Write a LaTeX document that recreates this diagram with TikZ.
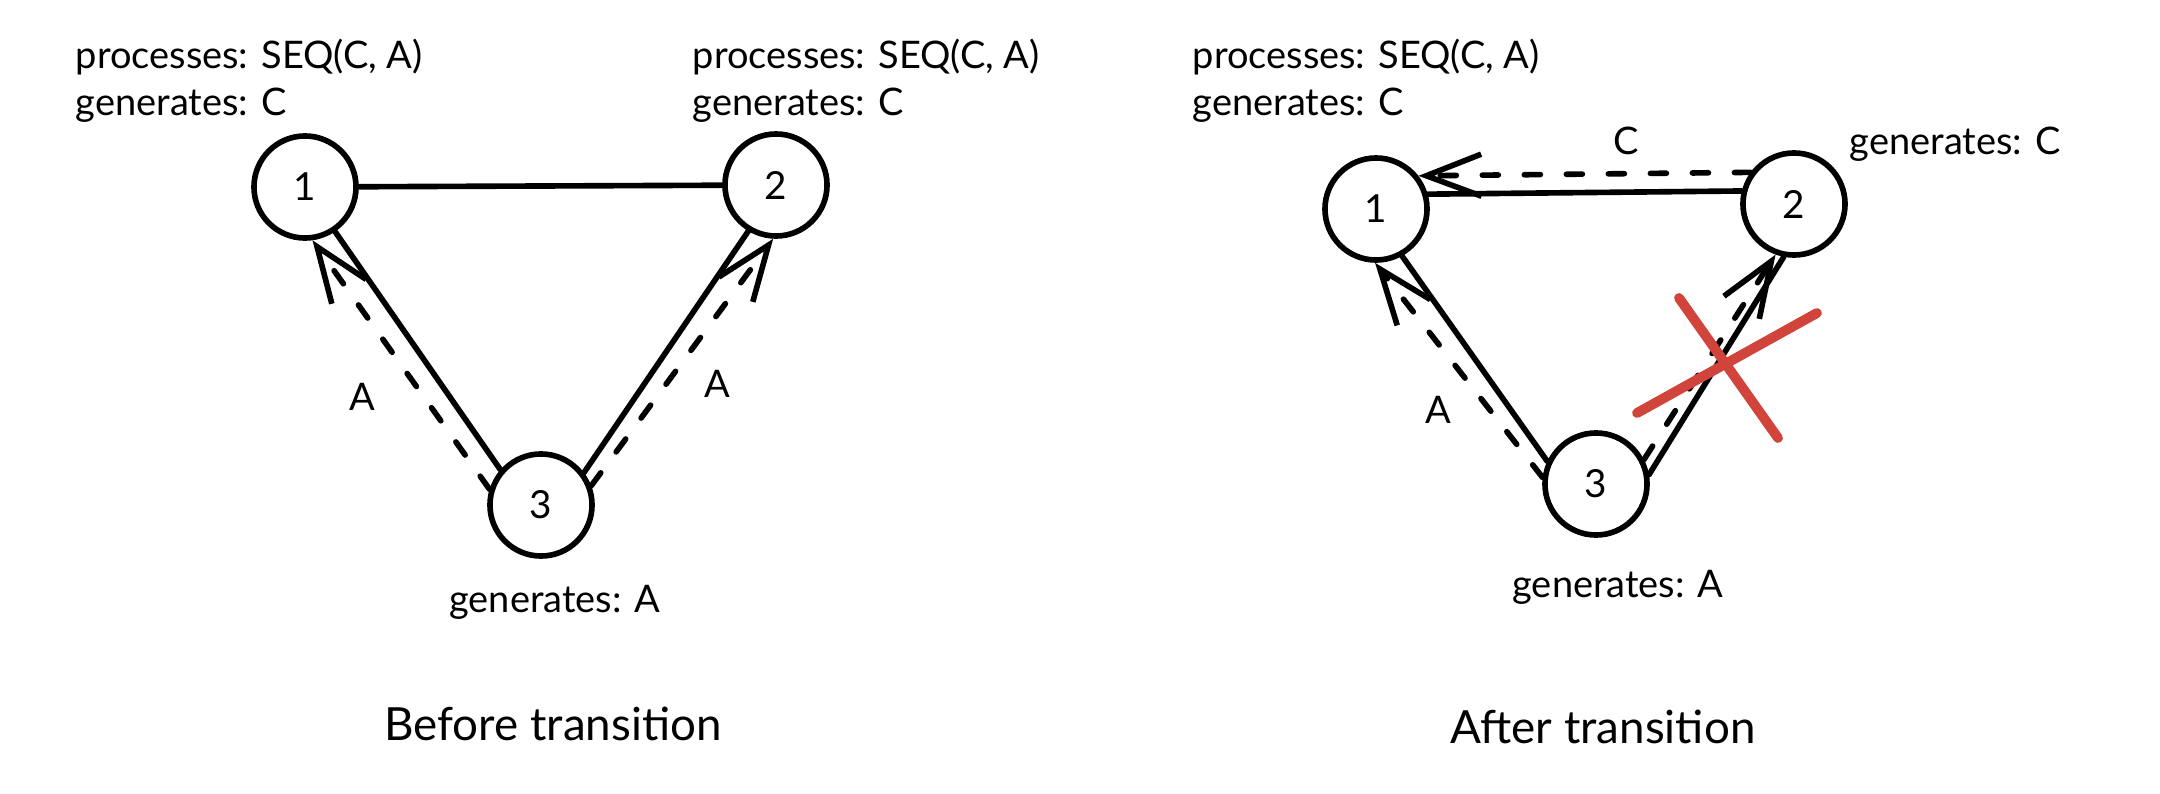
\documentclass[tikz,border=0pt]{standalone}
\usepackage{fontspec}
\setmainfont{Lato}
\usetikzlibrary{arrows.meta}
\definecolor{crossred}{HTML}{D0443C}

\begin{document}
\begin{tikzpicture}[x=0.01cm,y=-0.01cm,>={Straight Barb[length=5.5mm,width=4.2mm]},
  line width=1.6pt,line cap=round,
  main node/.style={circle,draw,minimum size=1.02cm,inner sep=0pt,font=\fontsize{11}{13}\selectfont},
  info/.style={anchor=base west,inner sep=0pt,font=\fontsize{10.8}{13}\selectfont},
  caption/.style={anchor=base,inner sep=0pt,font=\fontsize{13}{15}\selectfont},
  msg/.style={dash pattern=on 0.16cm off 0.26cm,->}]

  \useasboundingbox (0,0) rectangle (2160,794);

  % before transition
  \node[main node] (b1) at (305,187) {1};
  \node[main node] (b2) at (776,185) {2};
  \node[main node] (b3) at (541,505) {3};

  \node[info] (b1proc) at (73,69) {processes: SEQ(C, A)};
  \node[info] (b1gen) at (73,116) {generates: C};
  \node[info] (b2proc) at (690,69) {processes: SEQ(C, A)};
  \node[info] (b2gen) at (690,116) {generates: C};
  \node[info,anchor=base] (b3gen) at (555,612) {generates: A};
  \node[info,anchor=base] (b31lbl) at (362,410) {A};
  \node[info,anchor=base] (b32lbl) at (717,397) {A};
  \node[caption] (before) at (553,740) {Before transition};

  \path (b1) edge (b2)
    (b3.139) edge (b1.-56)
    (b3.37) edge (b2.-121);
  \path[msg] (b3.163) edge (b1.-82)
    (b3.21) edge (b2.-93);

  % after transition
  \node[main node] (a1) at (1376,209) {1};
  \node[main node] (a2) at (1794,204) {2};
  \node[main node] (a3) at (1596,484) {3};

  \node[info] (a1proc) at (1190,69) {processes: SEQ(C, A)};
  \node[info] (a1gen) at (1190,116) {generates: C};
  \node[info] (a2gen) at (1847,155) {generates: C};
  \node[info,anchor=base] (a3gen) at (1618,597) {generates: A};
  \node[info,anchor=base] (a21lbl) at (1626,155) {C};
  \node[info,anchor=base] (a31lbl) at (1438,423) {A};
  \node[caption] (after) at (1603,743) {After transition};

  \path (a2.166) edge (a1.16)
    (a3.155) edge (a1.-61)
    (a3.10) edge (a2.-101);
  \path[msg] (a2.144) edge (a1.38)
    (a3.173) edge (a1.-91)
    (a3.27) edge (a2.-110);

  % dropped link
  \draw[crossred,line width=2.8pt] (1679,298) -- (1778,438)
    (1637,413) -- (1817,313);
\end{tikzpicture}
\end{document}
